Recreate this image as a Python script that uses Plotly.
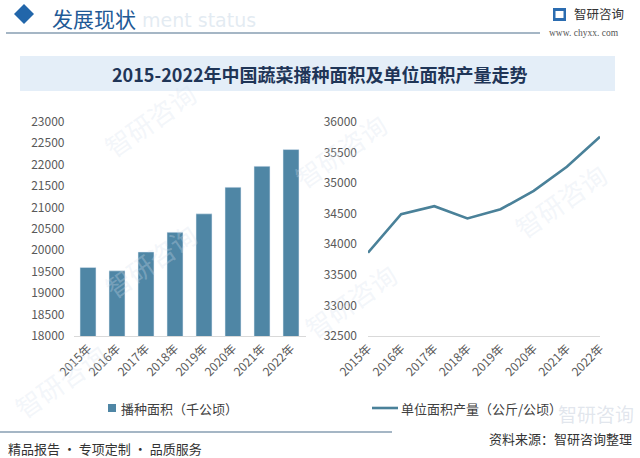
import plotly.graph_objects as go

years = ["2015年", "2016年", "2017年", "2018年", "2019年", "2020年", "2021年", "2022年"]
area = [19600, 19520, 19960, 20420, 20850, 21470, 21960, 22350]
yield_per_area = [33860, 34490, 34620, 34420, 34570, 34870, 35265, 35755]
left_ticks = [18000, 18500, 19000, 19500, 20000, 20500, 21000, 21500, 22000, 22500, 23000]
right_ticks = [32500, 33000, 33500, 34000, 34500, 35000, 35500, 36000]
bar_name = "播种面积（千公顷）"
line_name = "单位面积产量（公斤/公顷）"

W, H = 640, 458
def px(x): return x / W
def py(y): return 1 - y / H

BAR_COLOR = "#4f86a5"
LINE_COLOR = "#4a8199"

fig = go.Figure()
fig.add_trace(go.Bar(x=years, y=area, name=bar_name, marker_color=BAR_COLOR,
                     width=0.55, xaxis="x", yaxis="y", showlegend=False))
fig.add_trace(go.Scatter(x=years, y=yield_per_area, name=line_name, mode="lines",
                         line=dict(color=LINE_COLOR, width=2.6), xaxis="x2", yaxis="y2", showlegend=False))

tickfont = dict(family="Noto Sans CJK SC, Open Sans", size=12, color="#595959")
ydom = [py(336), py(121.7)]
fig.update_layout(
    width=W, height=H, margin=dict(l=0, r=0, t=0, b=0, autoexpand=False),
    paper_bgcolor="white", plot_bgcolor="rgba(0,0,0,0)",
    font=dict(family="Noto Sans CJK SC", color="#404040"),
    showlegend=False,
    xaxis=dict(domain=[px(73.5), px(305.5)], anchor="y", tickangle=-45, tickfont=tickfont,
               showline=True, linecolor="#d9d9d9", linewidth=1, showgrid=False, ticks="",
               automargin=False),
    yaxis=dict(domain=ydom, anchor="x", range=[18000, 23000], tickvals=left_ticks,
               tickformat="d", tickfont=tickfont, showgrid=False, zeroline=False,
               ticklabelstandoff=8, automargin=False),
    xaxis2=dict(domain=[px(368), px(600)], anchor="y2", tickangle=-45, tickfont=tickfont,
                showline=True, linecolor="#d9d9d9", linewidth=1, showgrid=False, ticks="",
                automargin=False),
    yaxis2=dict(domain=ydom, anchor="x2", range=[32500, 36000], tickvals=right_ticks,
                tickformat="d", tickfont=tickfont, showgrid=False, zeroline=False,
                ticklabelstandoff=10, automargin=False),
)

shapes = []
# title banner
shapes.append(dict(type="rect", xref="paper", yref="paper", x0=px(20), x1=px(615), y0=py(91), y1=py(56),
                   fillcolor="#e4eef8", line=dict(width=0), layer="below"))
# header line
shapes.append(dict(type="line", xref="paper", yref="paper", x0=px(6), x1=px(540), y0=py(33), y1=py(33),
                   line=dict(color="#4d6f8c", width=1.2)))
# bottom line
shapes.append(dict(type="line", xref="paper", yref="paper", x0=0, x1=px(392), y0=py(432), y1=py(432),
                   line=dict(color="#4d6f8c", width=1.2)))
# diamond
cx, cy, r = 24, 14, 10
shapes.append(dict(type="path", xref="paper", yref="paper",
                   path=f"M {px(cx-r)},{py(cy)} L {px(cx)},{py(cy-r)} L {px(cx+r)},{py(cy)} L {px(cx)},{py(cy+r)} Z",
                   fillcolor="#2266aa", line=dict(width=0)))
# logo icon
shapes.append(dict(type="rect", xref="paper", yref="paper", x0=px(553), x1=px(566), y0=py(21), y1=py(8),
                   fillcolor="#2b6cb0", line=dict(width=0)))
shapes.append(dict(type="rect", xref="paper", yref="paper", x0=px(555.5), x1=px(563.5), y0=py(18), y1=py(11),
                   fillcolor="white", line=dict(width=0)))
# legend markers
shapes.append(dict(type="rect", xref="paper", yref="paper", x0=px(108), x1=px(116), y0=py(412), y1=py(404),
                   fillcolor=BAR_COLOR, line=dict(width=0)))
shapes.append(dict(type="line", xref="paper", yref="paper", x0=px(372), x1=px(398), y0=py(408), y1=py(408),
                   line=dict(color=LINE_COLOR, width=2.6)))
fig.update_layout(shapes=shapes)

ann = []
def A(text, x, y, size, color, xanchor="left", family="Noto Sans CJK SC", angle=0):
    ann.append(dict(text=text, x=px(x), y=py(y), xref="paper", yref="paper", showarrow=False,
                    xanchor=xanchor, yanchor="middle", textangle=angle,
                    font=dict(size=size, color=color, family=family)))

# watermarks
for (x, y) in [(150, 120), (150, 260), (340, 150), (350, 300), (560, 200), (60, 380)]:
    A("智研咨询", x, y, 26, "rgba(215,225,238,0.3)", xanchor="center", angle=-35)
A("ment status", 140, 20, 19, "rgba(200,215,230,0.5)", family="DejaVu Sans")
A("发展现状", 50, 18, 21, "#1f5a96", family="Noto Sans CJK SC")
A("<b>2015-2022年中国蔬菜播种面积及单位面积产量走势</b>", 320, 74, 18, "#1f3557", xanchor="center")
A("智研咨询", 572, 14, 12.5, "#333333")
A("www. chyxx. com", 584, 33, 9.5, "#555555", xanchor="center", family="Liberation Serif")
A("智研咨询", 596, 413, 19, "rgba(190,200,215,0.45)", xanchor="center")
A(bar_name, 119, 408, 13, "#404040")
A(line_name, 399, 408, 13, "#404040")
A("资料来源：智研咨询整理", 634, 438, 13, "#333333", xanchor="right")
A("精品报告 · 专项定制 · 品质服务", 6, 448, 13, "#333333")
fig.update_layout(annotations=ann)

fig.write_html("out.html", config={"displayModeBar": False},
               post_script="document.body.style.margin='0';document.body.style.overflow='hidden';")
